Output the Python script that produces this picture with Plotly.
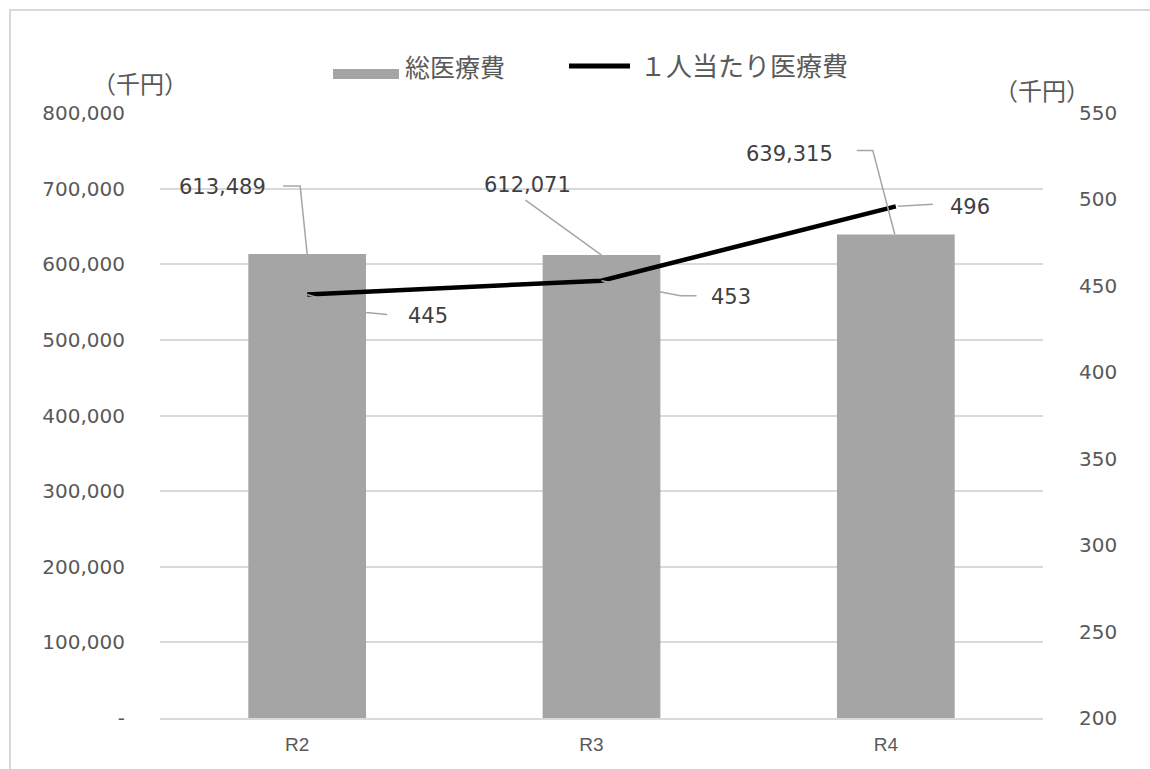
import plotly.graph_objects as go

# ---- data ----
categories = ["R2", "R3", "R4"]
total_cost = [613489, 612071, 639315]        # 総医療費 (千円)
per_capita_cost = [445, 453, 496]            # 1人当たり医療費 (千円)
bar_name = "総医療費"
line_name = "１人当たり医療費"
unit_label = "（千円）"
left_ticks = [0, 100000, 200000, 300000, 400000, 500000, 600000, 700000, 800000]
right_ticks = [200, 250, 300, 350, 400, 450, 500, 550]

# ---- layout constants ----
W, H = 1150, 769
ML, MR, MT, MB = 160, 107, 113, 51
PW, PH = W - ML - MR, H - MT - MB

BAR_COLOR = "#a5a5a5"
GRID = "#d9d9d9"
TXT = "#595959"
LBL = "#404040"
NUM_FONT = "DejaVu Sans"
JP_FONT = "Noto Sans CJK JP"


def px(xp):
    return (xp - ML) / PW


def py(yp):
    return (MT + PH - yp) / PH


def left_fmt(v):
    return "-" if v == 0 else f"{v:,}"


fig = go.Figure()

fig.add_trace(go.Bar(
    x=categories, y=total_cost, name=bar_name,
    marker=dict(color=BAR_COLOR, line=dict(width=0)),
    width=0.4, showlegend=False, yaxis="y",
))
fig.add_trace(go.Scatter(
    x=categories, y=per_capita_cost, name=line_name, mode="lines",
    line=dict(color="#000000", width=4.5), showlegend=False, yaxis="y2",
))

# ---- data labels with leader lines ----
bar_label_offsets = [(-85, 67), (-74, 70), (-106, 81)]
bar_leaders = ["M -24,68 L -7,68 L 0,0", "M -76,55 L 0,0", "M -39,84 L -23,84 L -1,0"]
line_label_offsets = [(121, -21), (129, -16), (74, -1)]
line_leaders = ["M 0,0 L 59,-18 L 80,-20", "M 0,0 L 58,-11 L 79,-15 L 95,-15", "M 2,0 L 37,2"]

annotations = []
shapes = []
for i, (cat, v) in enumerate(zip(categories, total_cost)):
    dx, dy = bar_label_offsets[i]
    annotations.append(dict(
        x=cat, y=v, xref="x", yref="y", text=f"{v:,}", showarrow=False,
        xshift=dx, yshift=dy, font=dict(family=NUM_FONT, size=21, color=LBL),
    ))
    shapes.append(dict(
        type="path", xref="x", yref="y", xsizemode="pixel", ysizemode="pixel",
        xanchor=i, yanchor=v, path=bar_leaders[i],
        line=dict(color="#a6a6a6", width=1.5), layer="above",
    ))
for i, (cat, v) in enumerate(zip(categories, per_capita_cost)):
    dx, dy = line_label_offsets[i]
    annotations.append(dict(
        x=cat, y=v, xref="x", yref="y2", text=f"{v:,}", showarrow=False,
        xshift=dx, yshift=dy, font=dict(family=NUM_FONT, size=21, color=LBL),
    ))
    shapes.append(dict(
        type="path", xref="x", yref="y2", xsizemode="pixel", ysizemode="pixel",
        xanchor=i, yanchor=v, path=line_leaders[i],
        line=dict(color="#a6a6a6", width=1.5), layer="above",
    ))

# ---- legend drawn at the top ----
shapes.append(dict(type="rect", xref="paper", yref="paper",
                   x0=px(333), x1=px(399), y0=py(79), y1=py(69),
                   fillcolor=BAR_COLOR, line=dict(width=0)))
shapes.append(dict(type="line", xref="paper", yref="paper",
                   x0=px(569), x1=px(630), y0=py(66), y1=py(66),
                   line=dict(color="#000000", width=5)))
annotations.append(dict(x=px(403), y=py(66), xref="paper", yref="paper",
                        xanchor="left", yanchor="middle", showarrow=False, text=bar_name,
                        font=dict(family=JP_FONT, size=25, color=TXT)))
annotations.append(dict(x=px(638), y=py(65), xref="paper", yref="paper",
                        xanchor="left", yanchor="middle", showarrow=False, text=line_name,
                        font=dict(family=JP_FONT, size=26, color=TXT)))

# ---- axis unit labels ----
annotations.append(dict(x=px(140), y=py(82), xref="paper", yref="paper",
                        xanchor="center", yanchor="middle", showarrow=False, text=unit_label,
                        font=dict(family=JP_FONT, size=24, color=TXT)))
annotations.append(dict(x=px(1042), y=py(89), xref="paper", yref="paper",
                        xanchor="center", yanchor="middle", showarrow=False, text=unit_label,
                        font=dict(family=JP_FONT, size=24, color=TXT)))

# ---- outer frame ----
shapes.append(dict(type="rect", xref="paper", yref="paper",
                   x0=px(10), x1=px(1160), y0=py(780), y1=py(10),
                   line=dict(color=GRID, width=2), fillcolor="rgba(0,0,0,0)", layer="below"))

fig.update_layout(
    width=W, height=H,
    margin=dict(l=ML, r=MR, t=MT, b=MB, pad=0),
    paper_bgcolor="white", plot_bgcolor="white",
    showlegend=False,
    xaxis=dict(
        type="category", showgrid=False, zeroline=False,
        showline=True, linecolor=GRID, linewidth=1.5,
        ticks="", tickfont=dict(family="Liberation Sans Narrow, Liberation Sans", size=19, color=TXT),
        ticklabelstandoff=8, ticklabelshift=-10,
    ),
    yaxis=dict(
        range=[0, 800000], tickvals=left_ticks, ticktext=[left_fmt(v) for v in left_ticks],
        showgrid=True, gridcolor=GRID, gridwidth=1.5, zeroline=False, showline=False,
        ticks="", tickfont=dict(family=NUM_FONT, size=20, color=TXT),
        ticklabelstandoff=34,
    ),
    yaxis2=dict(
        range=[200, 550], tickvals=right_ticks, ticktext=[str(v) for v in right_ticks],
        overlaying="y", side="right", showgrid=False, zeroline=False, showline=False,
        ticks="", tickfont=dict(family=NUM_FONT, size=20, color=TXT),
        ticklabelstandoff=35,
    ),
    shapes=shapes,
    annotations=annotations,
)

fig.write_html("out.html")
